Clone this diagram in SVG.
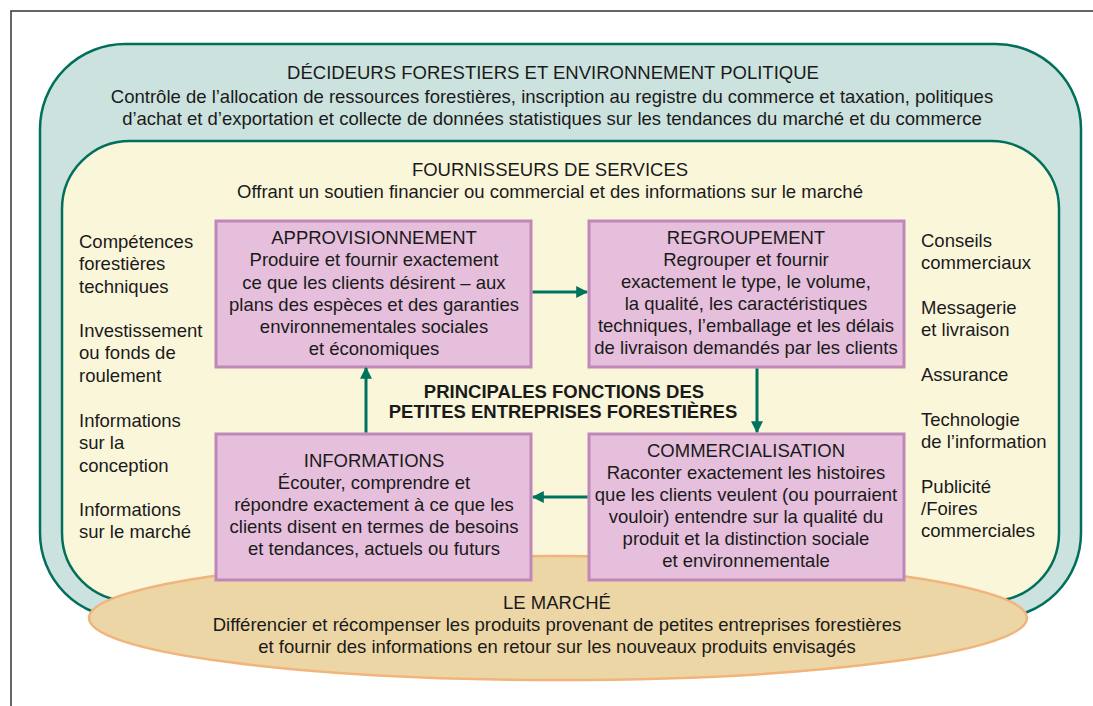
<svg xmlns="http://www.w3.org/2000/svg" width="1093" height="706" viewBox="0 0 1093 706">
<style>
text{font-family:"Liberation Sans",Arial,Helvetica,sans-serif;font-size:18.5px;fill:#1a1a1a}
.c{text-anchor:middle}
.b{font-weight:bold}
.box{fill:#e5bfdb;stroke:#c088b9;stroke-width:3}
.con{stroke:#00735f;stroke-width:3;fill:none}
</style>
<defs>
<marker id="ah" viewBox="0 0 10 10" refX="9" refY="5" markerWidth="4" markerHeight="4" orient="auto" markerUnits="strokeWidth">
<path d="M0,0 L10,5 L0,10 z" fill="#00735f"/>
</marker>
</defs>
<rect width="1093" height="706" fill="#ffffff"/>
<path d="M11,706 L11,11 L1093,11" fill="none" stroke="#333333" stroke-width="1.5"/>
<g id="decideurs">
<rect x="40" y="44" width="1041" height="574" rx="85" ry="85" fill="#cce2de" stroke="#00705c" stroke-width="2.5"/>
<text class="c" x="553" y="79">DÉCIDEURS FORESTIERS ET ENVIRONNEMENT POLITIQUE</text>
<text class="c" x="552" y="103">Contrôle de l’allocation de ressources forestières, inscription au registre du commerce et taxation, politiques</text>
<text class="c" x="552" y="125">d’achat et d’exportation et collecte de données statistiques sur les tendances du marché et du commerce</text>
</g>
<g id="fournisseurs">
<rect x="62" y="141" width="997" height="460" rx="68" ry="68" fill="#faf6da" stroke="#00705c" stroke-width="2.5"/>
<text class="c" x="550" y="176">FOURNISSEURS DE SERVICES</text>
<text class="c" x="550" y="198">Offrant un soutien financier ou commercial et des informations sur le marché</text>
</g>
<g id="services-gauche">
<text x="79" y="248">Compétences</text>
<text x="79" y="270">forestières</text>
<text x="79" y="293">techniques</text>
<text x="79" y="337">Investissement</text>
<text x="79" y="359">ou fonds de</text>
<text x="79" y="382">roulement</text>
<text x="79" y="427">Informations</text>
<text x="79" y="449">sur la</text>
<text x="79" y="472">conception</text>
<text x="79" y="516">Informations</text>
<text x="79" y="538">sur le marché</text>
</g>
<g id="services-droite">
<text x="921" y="247">Conseils</text>
<text x="921" y="269">commerciaux</text>
<text x="921" y="314">Messagerie</text>
<text x="921" y="336">et livraison</text>
<text x="921" y="381">Assurance</text>
<text x="921" y="426">Technologie</text>
<text x="921" y="448">de l’information</text>
<text x="921" y="493">Publicité</text>
<text x="921" y="515">/Foires</text>
<text x="921" y="537">commerciales</text>
</g>
<g id="marche">
<ellipse cx="558" cy="618" rx="469" ry="62" fill="#edd6a5" stroke="#f1b47b" stroke-width="2.5"/>
<text class="c" x="557" y="609">LE MARCHÉ</text>
<text class="c" x="557" y="631">Différencier et récompenser les produits provenant de petites entreprises forestières</text>
<text class="c" x="557" y="653">et fournir des informations en retour sur les nouveaux produits envisagés</text>
</g>
<g id="titre-central">
<text class="c b" x="564" y="398">PRINCIPALES FONCTIONS DES</text>
<text class="c b" x="563" y="418">PETITES ENTREPRISES FORESTIÈRES</text>
</g>
<g id="approvisionnement">
<rect class="box" x="216" y="221" width="315" height="146"/>
<text class="c" x="374" y="244">APPROVISIONNEMENT</text>
<text class="c" x="374" y="266">Produire et fournir exactement</text>
<text class="c" x="374" y="289">ce que les clients désirent – aux</text>
<text class="c" x="374" y="311">plans des espèces et des garanties</text>
<text class="c" x="374" y="333">environnementales sociales</text>
<text class="c" x="374" y="355">et économiques</text>
</g>
<g id="regroupement">
<rect class="box" x="589" y="221" width="315" height="146"/>
<text class="c" x="746" y="244">REGROUPEMENT</text>
<text class="c" x="746" y="266">Regrouper et fournir</text>
<text class="c" x="746" y="288">exactement le type, le volume,</text>
<text class="c" x="746" y="310">la qualité, les caractéristiques</text>
<text class="c" x="746" y="332">techniques, l’emballage et les délais</text>
<text class="c" x="746" y="354">de livraison demandés par les clients</text>
</g>
<g id="informations">
<rect class="box" x="216" y="434" width="315" height="146"/>
<text class="c" x="374" y="467">INFORMATIONS</text>
<text class="c" x="374" y="489">Écouter, comprendre et</text>
<text class="c" x="374" y="511">répondre exactement à ce que les</text>
<text class="c" x="374" y="533">clients disent en termes de besoins</text>
<text class="c" x="374" y="555">et tendances, actuels ou futurs</text>
</g>
<g id="commercialisation">
<rect class="box" x="589" y="434" width="315" height="146"/>
<text class="c" x="746" y="457">COMMERCIALISATION</text>
<text class="c" x="746" y="479">Raconter exactement les histoires</text>
<text class="c" x="746" y="501">que les clients veulent (ou pourraient</text>
<text class="c" x="746" y="523">vouloir) entendre sur la qualité du</text>
<text class="c" x="746" y="545">produit et la distinction sociale</text>
<text class="c" x="746" y="567">et environnementale</text>
</g>
<g id="connecteurs">
<line class="con" x1="532.5" y1="292" x2="587" y2="292" marker-end="url(#ah)"/>
<line class="con" x1="757" y1="368.5" x2="757" y2="432" marker-end="url(#ah)"/>
<line class="con" x1="587.5" y1="497" x2="533" y2="497" marker-end="url(#ah)"/>
<line class="con" x1="366" y1="432.5" x2="366" y2="368" marker-end="url(#ah)"/>
</g>
</svg>
